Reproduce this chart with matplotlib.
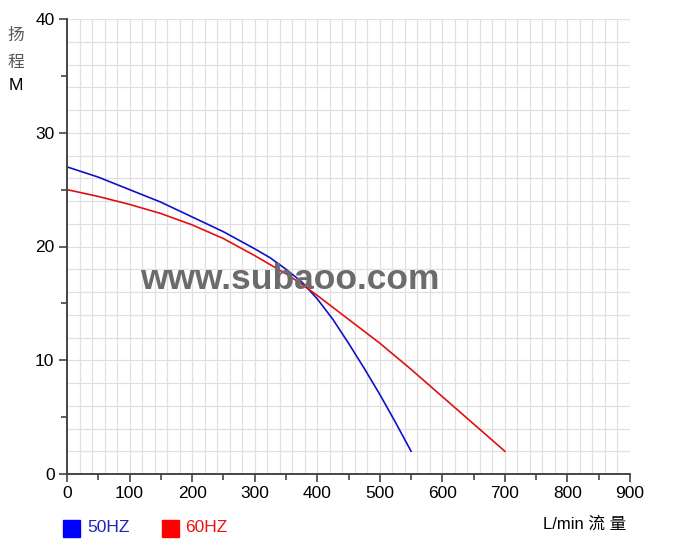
import matplotlib
matplotlib.use("Agg")
from matplotlib import pyplot as plt
from matplotlib.ticker import MultipleLocator

plt.rcParams['font.family'] = ['Liberation Sans', 'Noto Sans CJK SC', 'DejaVu Sans']

# 50HZ curve (flow L/min, head M)
flow_50 = [0, 50, 100, 150, 200, 250, 300, 325, 350, 375, 400, 425, 450, 475, 500, 525, 550]
head_50 = [27.0, 26.1, 25.0, 23.9, 22.6, 21.3, 19.8, 19.0, 18.0, 16.9, 15.4, 13.6, 11.5, 9.3, 7.0, 4.55, 2.0]

# 60HZ curve
flow_60 = [0, 50, 100, 150, 200, 250, 300, 325, 350, 375, 400, 425, 450, 475, 500, 525, 550, 600, 650, 700]
head_60 = [25.0, 24.4, 23.7, 22.9, 21.9, 20.7, 19.2, 18.4, 17.6, 16.7, 15.7, 14.65, 13.6, 12.55, 11.5, 10.35, 9.2, 6.8, 4.4, 2.0]

x_ticks = [0, 100, 200, 300, 400, 500, 600, 700, 800, 900]
y_ticks = [0, 10, 20, 30, 40]

fig = plt.figure(figsize=(6.93, 5.54), dpi=100)
ax = fig.add_axes([67/693, 1-474/554, (630-67)/693, (474-19)/554])

ax.set_xlim(0, 900)
ax.set_ylim(0, 40)
ax.set_xticks(x_ticks)
ax.set_yticks(y_ticks)
ax.xaxis.set_minor_locator(MultipleLocator(50))
ax.yaxis.set_minor_locator(MultipleLocator(5))

# light grid every 20 L/min and every 2 M
for gx in range(20, 901, 20):
    ax.axvline(gx, color='#e0e0e0', lw=0.9, zorder=0)
for gy in range(2, 41, 2):
    ax.axhline(gy, color='#e0e0e0', lw=0.9, zorder=0)

for s in ['top', 'right']:
    ax.spines[s].set_visible(False)
for s in ['left', 'bottom']:
    ax.spines[s].set_color('#444444')
    ax.spines[s].set_linewidth(1.4)
    ax.spines[s].set_zorder(3)

ax.tick_params(which='major', length=6, width=1.2, color='#444444', labelsize=12.5, pad=3)
ax.tick_params(which='minor', length=4, width=1.2, color='#444444')

# watermark
fig.text(290/693, 1-289/554, 'www.subaoo.com', fontsize=25.5, fontweight='bold',
         color='#6b6b6b', ha='center', va='baseline', zorder=1)

ax.plot(flow_50, head_50, color='#1010c8', lw=1.2, zorder=2)
ax.plot(flow_60, head_60, color='#e01010', lw=1.2, zorder=2)

# axis labels
fig.text(16/693, 1-35/554, '扬', fontsize=12, color='#555555', ha='center', va='center')
fig.text(16/693, 1-62/554, '程', fontsize=12, color='#555555', ha='center', va='center')
fig.text(16/693, 1-86/554, 'M', fontsize=12.5, ha='center', va='center')
fig.text(626/693, 1-524/554, 'L/min 流 量', fontsize=12, ha='right', va='center')

# legend squares
fig.patches.append(plt.Rectangle((63/693, 1-537/554), 17/693, 17/554,
                                 transform=fig.transFigure, color='#0000ff'))
fig.text(87/693, 1-528/554, '50HZ', fontsize=12.5, color='#2222bb', va='center')
fig.patches.append(plt.Rectangle((162/693, 1-537/554), 17/693, 17/554,
                                 transform=fig.transFigure, color='#ff0000'))
fig.text(185/693, 1-528/554, '60HZ', fontsize=12.5, color='#ee1111', va='center')

fig.savefig('out.png', dpi=100)
